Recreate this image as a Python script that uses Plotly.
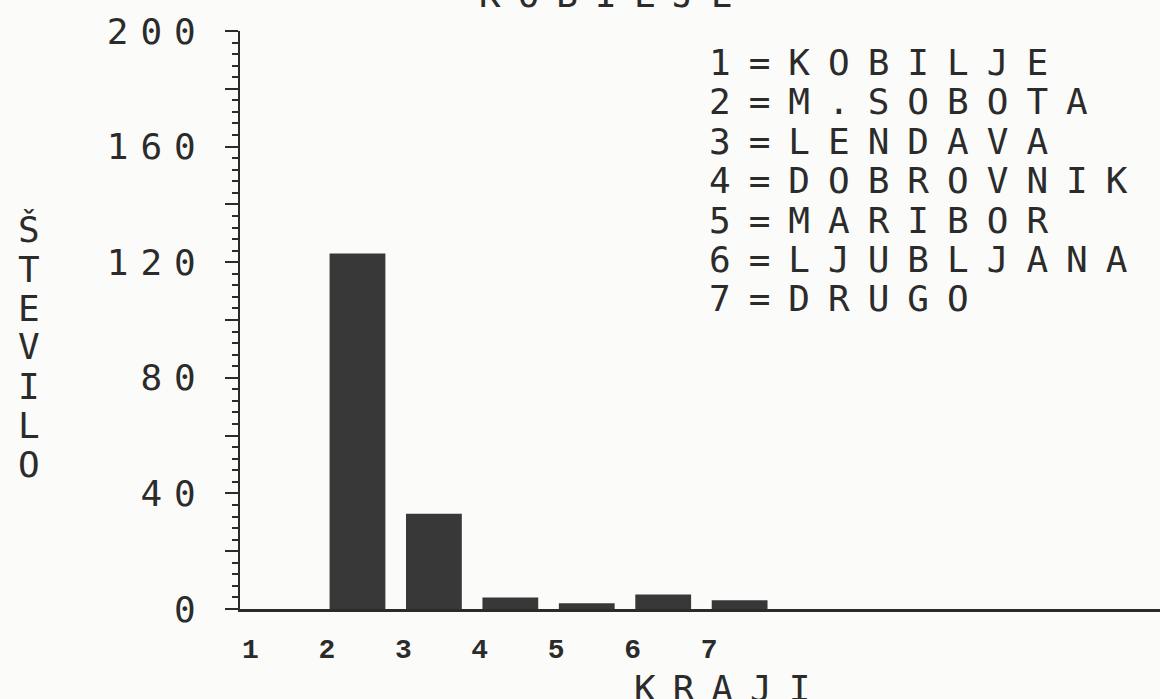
import plotly.graph_objects as go

# Data
CODES   = [1, 2, 3, 4, 5, 6, 7]
REGIONS = ['KOBILJE', 'M.SOBOTA', 'LENDAVA', 'DOBROVNIK', 'MARIBOR', 'LJUBLJANA', 'DRUGO']
COUNTS  = [0, 123, 33, 4, 2, 5, 3]

Y_TICKS  = [0, 20, 40, 60, 80, 100, 120, 140, 160, 180, 200]
Y_LABELS = ['0', '', '40', '', '80', '', '120', '', '160', '', '200']

TITLE   = 'KOBILJE'
X_TITLE = 'KRAJI'
Y_TITLE = 'ŠTEVILO'

INK   = '#2b2b2b'
BAR   = '#383838'
PAPER = '#fbfbf9'
MONO  = 'DejaVu Sans Mono'

# plot-area geometry in pixels (page is 1160 x 699)
L, R, T, B = 240, 0, 31, 90
W, H = 1160, 699
PW, PH = W - L - R, H - T - B


def spaced(text, px):
    """Wide dot-matrix look: monospace text with extra letter spacing."""
    return f'<span style="letter-spacing:{px}px">{text}</span>'


def px_x(x):
    return (x - L) / PW


def px_y(y):
    return (H - B - y) / PH


fig = go.Figure()

fig.add_trace(go.Bar(
    x=CODES,
    y=COUNTS,
    width=0.73,
    marker=dict(color=BAR, line=dict(width=0)),
    hovertemplate='%{x}: %{y}<extra></extra>',
))

# legend text: "n=REGION" lines at the upper right
annotations = []
for i, (code, name) in enumerate(zip(CODES, REGIONS)):
    annotations.append(dict(
        text=spaced(f'{code}={name}', 18),
        xref='paper', yref='paper',
        x=px_x(707), y=px_y(62.5 + i * 39.4),
        xanchor='left', yanchor='middle',
        showarrow=False,
        font=dict(family=MONO, size=36, color=INK),
    ))

# title, clipped at the top of the page
annotations.append(dict(
    text=spaced(TITLE, 17),
    xref='paper', yref='paper',
    x=px_x(614), y=px_y(-6),
    xanchor='center', yanchor='middle',
    showarrow=False,
    font=dict(family=MONO, size=36, color=INK),
))

# x title, clipped at the bottom
annotations.append(dict(
    text=spaced(X_TITLE, 17),
    xref='paper', yref='paper',
    x=px_x(730), y=px_y(688),
    xanchor='center', yanchor='middle',
    showarrow=False,
    font=dict(family=MONO, size=36, color=INK),
))

# y title, letters stacked upright
for i, ch in enumerate(Y_TITLE):
    annotations.append(dict(
        text=ch,
        xref='paper', yref='paper',
        x=px_x(29), y=px_y(230 + i * 39),
        xanchor='center', yanchor='middle',
        showarrow=False,
        font=dict(family=MONO, size=36, color=INK),
    ))

fig.update_layout(
    width=W, height=H,
    margin=dict(l=L, r=R, t=T, b=B, pad=0, autoexpand=False),
    paper_bgcolor=PAPER,
    plot_bgcolor=PAPER,
    showlegend=False,
    bargap=0.27,
    annotations=annotations,
    xaxis=dict(
        range=[0.463, 12.5],
        tickvals=[c - 0.4 for c in CODES],
        ticktext=[str(c) for c in CODES],
        ticks='',
        ticklabelstandoff=12,
        tickfont=dict(family='Liberation Mono', size=28, color=INK, weight='bold'),
        showgrid=False, zeroline=False, automargin=False,
        showline=True, linecolor=INK, linewidth=3,
    ),
    yaxis=dict(
        range=[0, 200],
        tickvals=Y_TICKS,
        ticktext=[spaced(t, 12) for t in Y_LABELS],
        ticks='outside', ticklen=13, tickwidth=2, tickcolor=INK,
        ticklabelstandoff=10,
        tickfont=dict(family=MONO, size=36, color=INK),
        minor=dict(dtick=4, ticks='outside', ticklen=6, tickwidth=1.5, tickcolor=INK),
        showgrid=False, zeroline=False, automargin=False,
        showline=True, linecolor=INK, linewidth=2,
    ),
)

fig.write_html(
    'out.html',
    config={'displayModeBar': False},
    post_script="document.body.style.margin='0';document.body.style.overflow='hidden';",
)
